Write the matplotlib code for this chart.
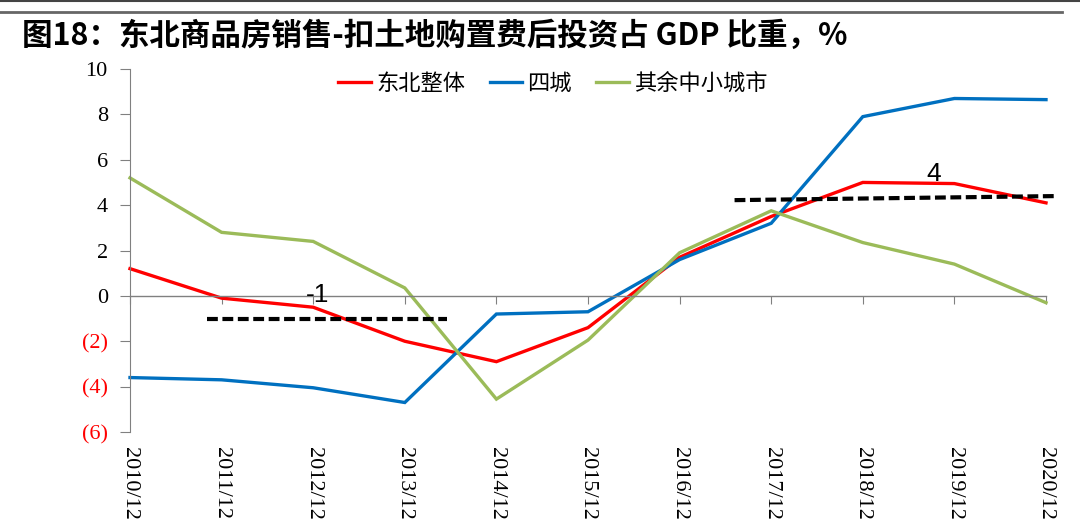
import matplotlib
matplotlib.use("Agg")
import matplotlib.pyplot as plt
from matplotlib.lines import Line2D

categories = ["2010/12", "2011/12", "2012/12", "2013/12", "2014/12", "2015/12",
              "2016/12", "2017/12", "2018/12", "2019/12", "2020/12"]
northeast = [1.2, -0.1, -0.5, -2.0, -2.9, -1.4, 1.7, 3.5, 5.0, 4.95, 4.1]
four_cities = [-3.6, -3.7, -4.05, -4.7, -0.8, -0.7, 1.6, 3.2, 7.9, 8.7, 8.65]
other_cities = [5.2, 2.8, 2.4, 0.35, -4.55, -1.95, 1.9, 3.75, 2.35, 1.4, -0.3]

avg1_x = [0.84, 3.46]
avg1_y = [-1.0, -1.0]
avg2_x = [6.6, 10.13]
avg2_y = [4.22, 4.4]
avg1_label = "-1"
avg2_label = "4"

yticks = [10, 8, 6, 4, 2, 0, -2, -4, -6]
ytick_labels = ["10", "8", "6", "4", "2", "0", "(2)", "(4)", "(6)"]

title = "图18：东北商品房销售-扣土地购置费后投资占 GDP 比重，%"
series_names = ["东北整体", "四城", "其余中小城市"]
colors = ["#FF0000", "#0070C0", "#9BBB59"]

fig = plt.figure(figsize=(10.8, 5.22), dpi=100)
ax = fig.add_axes([130/1080, 1-432/522, (1046-130)/1080, (432-69)/522])

x = list(range(len(categories)))
for vals, c, name in zip([northeast, four_cities, other_cities], colors, series_names):
    ax.plot(x, vals, color=c, lw=2.4, label=name, solid_joinstyle="miter", clip_on=False)

ax.plot(avg1_x, avg1_y, color="black", lw=3, dashes=(2.6, 1.1), clip_on=False)
ax.plot(avg2_x, avg2_y, color="black", lw=3, dashes=(2.6, 1.1), clip_on=False)
ax.text(2.05, 0.05, avg1_label, fontsize=19, family="Liberation Sans", ha="center", va="center")
ax.text(8.77, 5.35, avg2_label, fontsize=19, family="Liberation Sans", ha="center", va="center")

ax.set_xlim(0, 10)
ax.set_ylim(-6, 10)

for s in ["top", "right"]:
    ax.spines[s].set_visible(False)
ax.spines["left"].set_color("#808080")
ax.spines["bottom"].set_position(("data", 0))
ax.spines["bottom"].set_color("#808080")
ax.spines["bottom"].set_linewidth(1.0)

ax.set_yticks(yticks)
ax.set_yticklabels(ytick_labels, family="Liberation Serif", fontsize=16)
for lbl, v in zip(ax.get_yticklabels(), yticks):
    lbl.set_color("#FF0000" if v < 0 else "#000000")
ax.tick_params(axis="y", direction="out", length=7, color="#808080", pad=9)

ax.set_xticks(x)
ax.tick_params(axis="x", direction="out", length=6, color="#808080", labelbottom=False)

sec = ax.secondary_xaxis("bottom")
sec.set_xticks(x)
sec.set_xticklabels(categories, rotation=270, family="Liberation Serif", fontsize=16)
sec.tick_params(length=0, pad=11)
sec.spines["bottom"].set_visible(False)

handles = [Line2D([0], [0], color=c, lw=2.4) for c in colors]
leg = ax.legend(handles, series_names, loc="center", bbox_to_anchor=(553/1080, 1-83/522),
                bbox_transform=fig.transFigure, ncol=3, frameon=False,
                prop={"family": ["Noto Sans CJK SC", "DejaVu Sans"], "size": 16},
                handlelength=1.45, handletextpad=0.25, columnspacing=1.1)

fig.text(22/1080, 1-36/522, title, fontsize=22, fontweight="bold",
         family=["Noto Sans CJK SC", "DejaVu Sans"], ha="left", va="center")

fig.add_artist(Line2D([0, 1], [1-1/522, 1-1/522], color="#444444", lw=1.5, transform=fig.transFigure))
fig.add_artist(Line2D([0, 1062/1080], [1-12/522, 1-12/522], color="#666666", lw=2, transform=fig.transFigure))

fig.savefig("out.png", dpi=100)
